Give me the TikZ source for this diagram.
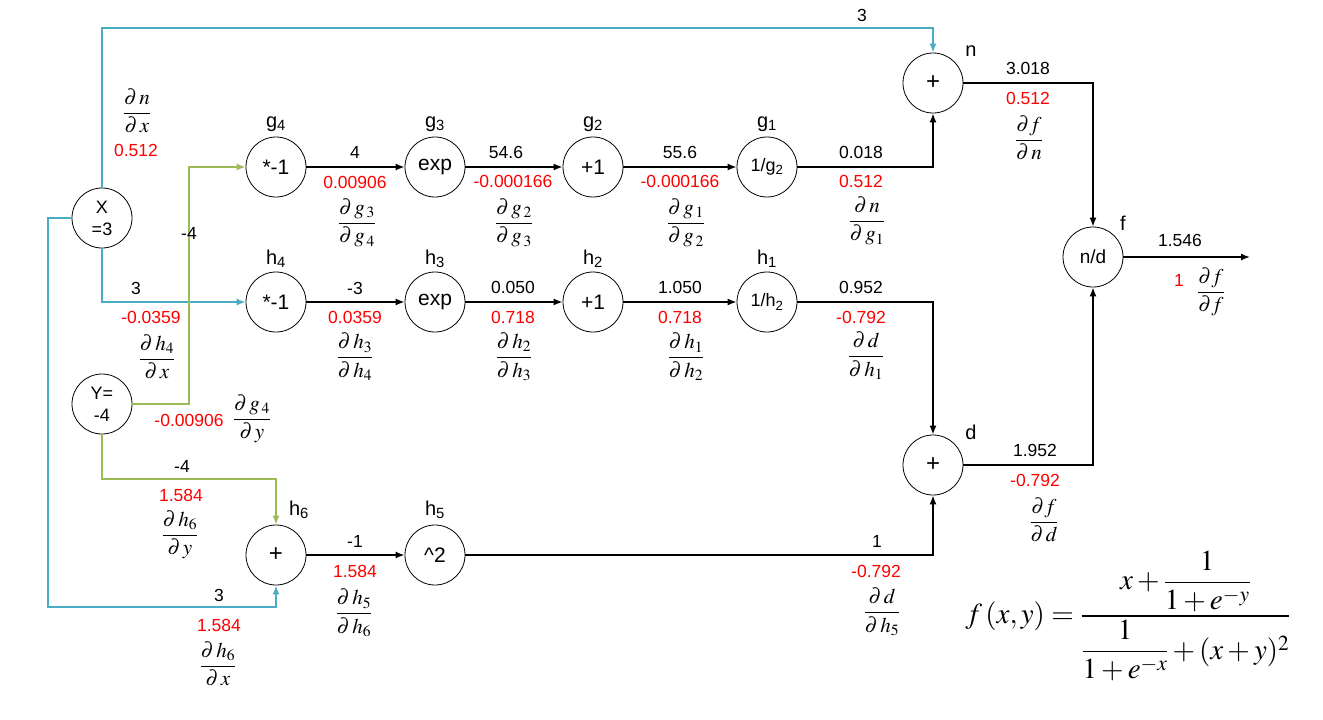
\documentclass[tikz,border=0pt]{standalone}
\usepackage{amsmath}
\usepackage{mathptmx}
\usepackage[no-math]{fontspec}
\setmainfont{Liberation Sans}
\usepackage{tikz}
\usetikzlibrary{arrows.meta}
\definecolor{xblue}{RGB}{75,172,198}
\definecolor{ygreen}{RGB}{155,187,89}

\begin{document}
\begin{tikzpicture}[x=1pt,y=-1pt]
            \useasboundingbox (0,0) rectangle (1323,720);
            \tikzset{VertexStyle/.style={draw,circle,minimum size=60pt,inner sep=0pt,line width=0.8pt,font=\fontsize{21}{23}\selectfont}};
            \tikzset{NameStyle/.style={font=\fontsize{20}{22}\selectfont,inner sep=0pt}};
            \tikzset{ValueStyle/.style={font=\fontsize{17.5}{19}\selectfont,inner sep=0pt}};
            \tikzset{GradStyle/.style={ValueStyle,red}};
            \tikzset{FracStyle/.style={font=\fontsize{21}{23}\selectfont,inner sep=0pt}};
            \tikzset{EdgeStyle/.style={line width=1.5pt,-{Latex[length=9pt,width=7pt]}}};

            \node[VertexStyle,align=center,font=\fontsize{18}{22}\selectfont] (X) at (102,218) {X\\=3};
            \node[VertexStyle,align=center,font=\fontsize{18}{22}\selectfont] (Y) at (102,404) {Y=\\-4};

            \node[VertexStyle] (g_4) at (276,167) {*-1};
            \node[VertexStyle] (g_3) at (435,167) {exp};
            \node[VertexStyle] (g_2) at (593,167) {+1};
            \node[VertexStyle,font=\fontsize{18}{20}\selectfont] (g_1) at (767,167) {1/g\textsubscript{2}};

            \node[VertexStyle] (h_4) at (276,302) {*-1};
            \node[VertexStyle] (h_3) at (435,302) {exp};
            \node[VertexStyle] (h_2) at (593,302) {+1};
            \node[VertexStyle,font=\fontsize{18}{20}\selectfont] (h_1) at (767,302) {1/h\textsubscript{2}};

            \node[VertexStyle,font=\fontsize{24}{26}\selectfont] (h_6) at (276,555) {+};
            \node[VertexStyle] (h_5) at (435,555) {\textasciicircum 2};

            \node[VertexStyle,font=\fontsize{24}{26}\selectfont] (n) at (933,83) {+};
            \node[VertexStyle,font=\fontsize{24}{26}\selectfont] (d) at (933,465) {+};
            \node[VertexStyle,font=\fontsize{19}{21}\selectfont] (f) at (1093,257) {n/d};

            \node[NameStyle] (Lg_4) at (276,124) {g\textsubscript{4}};
            \node[NameStyle] (Lg_3) at (435,124) {g\textsubscript{3}};
            \node[NameStyle] (Lg_2) at (593,124) {g\textsubscript{2}};
            \node[NameStyle] (Lg_1) at (767,124) {g\textsubscript{1}};
            \node[NameStyle] (Lh_4) at (276,259) {h\textsubscript{4}};
            \node[NameStyle] (Lh_3) at (435,259) {h\textsubscript{3}};
            \node[NameStyle] (Lh_2) at (593,259) {h\textsubscript{2}};
            \node[NameStyle] (Lh_1) at (767,259) {h\textsubscript{1}};
            \node[NameStyle] (Lh_6) at (299,510) {h\textsubscript{6}};
            \node[NameStyle] (Lh_5) at (435,510) {h\textsubscript{5}};
            \node[NameStyle] (Ln) at (971,51) {n};
            \node[NameStyle] (Ld) at (971,432) {d};
            \node[NameStyle] (Lf) at (1123,223) {f};

            \coordinate (xtop) at (102,28);
            \coordinate (xleft) at (48,607);
            \coordinate (ymid) at (189,167);
            \coordinate (ylow) at (102,479);
            \coordinate (out) at (1250,257);

            \draw[EdgeStyle] (g_4) -- (g_3);
            \draw[EdgeStyle] (g_3) -- (g_2);
            \draw[EdgeStyle] (g_2) -- (g_1);
            \draw[EdgeStyle] (g_1) -| (n);
            \draw[EdgeStyle] (h_4) -- (h_3);
            \draw[EdgeStyle] (h_3) -- (h_2);
            \draw[EdgeStyle] (h_2) -- (h_1);
            \draw[EdgeStyle] (h_1) -| (d);
            \draw[EdgeStyle] (h_6) -- (h_5);
            \draw[EdgeStyle] (h_5) -| (d);
            \draw[EdgeStyle] (n) -| (f);
            \draw[EdgeStyle] (d) -| (f);
            \draw[EdgeStyle] (f) -- (out);

            \tikzset{EdgeStyle/.append style={xblue}};
            \draw[EdgeStyle] (X) -- (xtop) -| (n);
            \draw[EdgeStyle] (X) -| (xleft) -| (h_6);
            \draw[EdgeStyle] (X) |- (h_4);

            \tikzset{EdgeStyle/.append style={ygreen}};
            \draw[EdgeStyle] (Y) -| (ymid) -- (g_4);
            \draw[EdgeStyle] (Y) -- (ylow) -| (h_6);

            \node[ValueStyle] (v_xn) at (862,15) {3};
            \node[FracStyle] (p_xn) at (137,111) {$\dfrac{\partial\, n}{\partial\, x}$};
            \node[GradStyle] (r_xn) at (136,150) {0.512};

            \node[ValueStyle] (v_g43) at (355,152) {4};
            \node[GradStyle] (r_g43) at (355,182) {0.00906};
            \node[FracStyle] (p_g43) at (357,223) {$\dfrac{\partial\, g_{\,3}}{\partial\, g_{\,4}}$};
            \node[ValueStyle] (v_g32) at (506,152) {54.6};
            \node[GradStyle] (r_g32) at (513,181) {-0.000166};
            \node[FracStyle] (p_g32) at (514,223) {$\dfrac{\partial\, g_{\,2}}{\partial\, g_{\,3}}$};
            \node[ValueStyle] (v_g21) at (680,152) {55.6};
            \node[GradStyle] (r_g21) at (680,181) {-0.000166};
            \node[FracStyle] (p_g21) at (686,223) {$\dfrac{\partial\, g_{\,1}}{\partial\, g_{\,2}}$};
            \node[ValueStyle] (v_g1n) at (861,152) {0.018};
            \node[GradStyle] (r_g1n) at (861,181) {0.512};
            \node[FracStyle] (p_g1n) at (867,221) {$\dfrac{\partial\, n}{\partial\, g_{1}}$};

            \node[ValueStyle] (v_nf) at (1028,68) {3.018};
            \node[GradStyle] (r_nf) at (1028,98) {0.512};
            \node[FracStyle] (p_nf) at (1029,138) {$\dfrac{\partial f}{\partial\, n}$};

            \node[ValueStyle] (v_xg) at (189,233) {-4};

            \node[ValueStyle] (v_xh4) at (136,288) {3};
            \node[GradStyle] (r_xh4) at (151,317) {-0.0359};
            \node[FracStyle] (p_xh4) at (157,357) {$\dfrac{\partial\, h_{4}}{\partial\, x}$};
            \node[ValueStyle] (v_h43) at (355,288) {-3};
            \node[GradStyle] (r_h43) at (355,317) {0.0359};
            \node[FracStyle] (p_h43) at (355,357) {$\dfrac{\partial\, h_{3}}{\partial\, h_{4}}$};
            \node[ValueStyle] (v_h32) at (513,287) {0.050};
            \node[GradStyle] (r_h32) at (513,317) {0.718};
            \node[FracStyle] (p_h32) at (514,357) {$\dfrac{\partial\, h_{2}}{\partial\, h_{3}}$};
            \node[ValueStyle] (v_h21) at (680,287) {1.050};
            \node[GradStyle] (r_h21) at (680,317) {0.718};
            \node[FracStyle] (p_h21) at (686,357) {$\dfrac{\partial\, h_{1}}{\partial\, h_{2}}$};
            \node[ValueStyle] (v_h1d) at (861,287) {0.952};
            \node[GradStyle] (r_h1d) at (861,317) {-0.792};
            \node[FracStyle] (p_h1d) at (866,356) {$\dfrac{\partial\, d}{\partial\, h_{1}}$};

            \node[ValueStyle] (v_ff) at (1180,240) {1.546};
            \node[GradStyle] (r_ff) at (1179,280) {1};
            \node[FracStyle] (p_ff) at (1211,292) {$\dfrac{\partial f}{\partial f}$};

            \node[GradStyle] (r_yg) at (189,420) {-0.00906};
            \node[FracStyle] (p_yg) at (252,419) {$\dfrac{\partial\, g_{\,4}}{\partial\, y}$};

            \node[ValueStyle] (v_yh6) at (182,466) {-4};
            \node[GradStyle] (r_yh6) at (181,495) {1.584};
            \node[FracStyle] (p_yh6) at (180,535) {$\dfrac{\partial\, h_{6}}{\partial\, y}$};
            \node[ValueStyle] (v_xh6) at (219,595) {3};
            \node[GradStyle] (r_xh6) at (219,625) {1.584};
            \node[FracStyle] (p_xh6) at (218,664) {$\dfrac{\partial\, h_{6}}{\partial\, x}$};
            \node[ValueStyle] (v_h65) at (355,541) {-1};
            \node[GradStyle] (r_h65) at (355,571) {1.584};
            \node[FracStyle] (p_h65) at (354,613) {$\dfrac{\partial\, h_{5}}{\partial\, h_{6}}$};
            \node[ValueStyle] (v_h5d) at (877,541) {1};
            \node[GradStyle] (r_h5d) at (876,571) {-0.792};
            \node[FracStyle] (p_h5d) at (882,612) {$\dfrac{\partial\, d}{\partial\, h_{5}}$};

            \node[ValueStyle] (v_df) at (1035,450) {1.952};
            \node[GradStyle] (r_df) at (1035,480) {-0.792};
            \node[FracStyle] (p_df) at (1044,520) {$\dfrac{\partial f}{\partial\, d}$};

            \node[font=\fontsize{29}{33}\selectfont] (formula) at (1128,616) {$f\,(x,y)=\dfrac{x+\dfrac{1}{1+e^{-y}}}{\dfrac{1}{1+e^{-x}}+(x+y)^{2}}$};
          \end{tikzpicture}
\end{document}
